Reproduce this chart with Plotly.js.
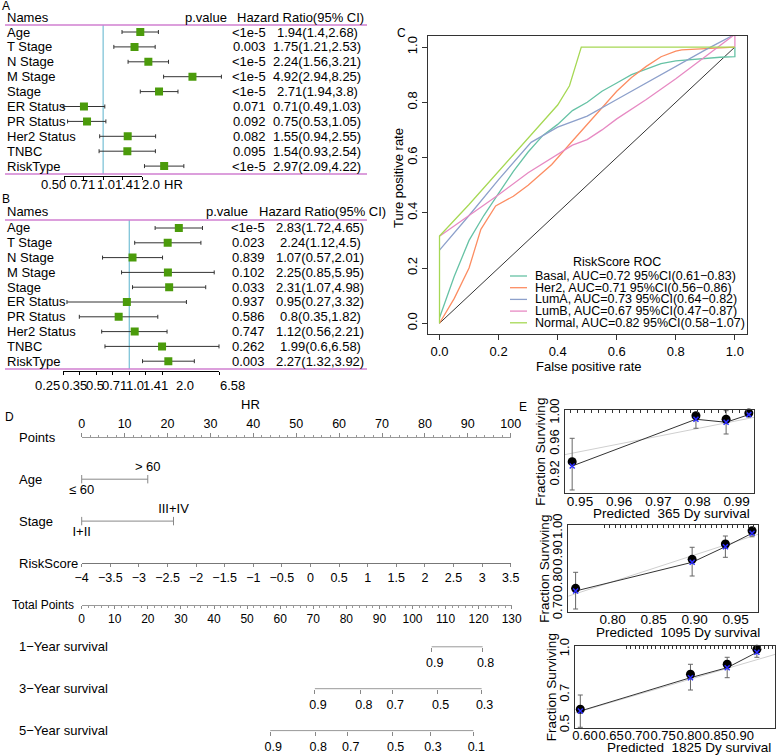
<!DOCTYPE html>
<html><head><meta charset="utf-8">
<script src="https://cdn.plot.ly/plotly-3.0.1.min.js"></script>
<style>body{margin:0;background:#fff}#plot{width:778px;height:756px}</style>
</head><body><div id="plot"></div>
<script>
// ================= DATA =================
// Panels A/B: forest plots
const forestNames=['Age','T Stage','N Stage','M Stage','Stage','ER Status','PR Status','Her2 Status','TNBC','RiskType'];
const uniHR=[1.94,1.75,2.24,4.92,2.71,0.71,0.75,1.55,1.54,2.97];
const uniLow=[1.4,1.21,1.56,2.94,1.94,0.49,0.53,0.94,0.93,2.09];
const uniHigh=[2.68,2.53,3.21,8.25,3.8,1.03,1.05,2.55,2.54,4.22];
const uniP=['<1e-5','0.003','<1e-5','<1e-5','<1e-5','0.071','0.092','0.082','0.095','<1e-5'];
const uniTicks=[0.5,0.71,1,1.41,2];
const uniTickText=['0.50','0.71','1.0','1.41','2.0'];
const multiHR=[2.83,2.24,1.07,2.25,2.31,0.95,0.8,1.12,1.99,2.27];
const multiLow=[1.72,1.12,0.57,0.85,1.07,0.27,0.35,0.56,0.6,1.32];
const multiHigh=[4.65,4.5,2.01,5.95,4.98,3.32,1.82,2.21,6.58,3.92];
const multiP=['<1e-5','0.023','0.839','0.102','0.033','0.937','0.586','0.747','0.262','0.003'];
const multiTicks=[0.25,0.35,0.5,0.71,1,1.41,2,6.58];
const multiTickText=['0.25','0.35','0.5','0.71','1.0','1.41','2.0','6.58'];

// Panel C: ROC curves
const rocGroups=['Basal','Her2','LumA','LumB','Normal'];
const rocAUC=['0.72','0.71','0.73','0.67','0.82'];
const rocCILow=['0.61','0.56','0.64','0.47','0.58'];
const rocCIHigh=['0.83','0.86','0.82','0.87','1.07'];
const rocColors=['#66C2A5','#FC8D62','#8DA0CB','#E78AC3','#A6D854'];
const basalFPR=[0,0.05,0.1,0.15,0.2,0.25,0.3,0.35,0.4,0.45,0.5,0.55,0.6,0.65,0.7,0.75,0.8,0.85,0.9,0.95,1,1];
const basalTPR=[0.02,0.17,0.30,0.39,0.47,0.55,0.62,0.68,0.72,0.77,0.80,0.84,0.87,0.90,0.92,0.94,0.95,0.955,0.96,0.963,0.965,1.0];
const her2FPR=[0,0.05,0.1,0.14,0.19,0.25,0.3,0.38,0.45,0.5,0.55,0.6,0.65,0.7,0.75,0.8,0.82,0.9,1.0];
const her2TPR=[0,0.09,0.2,0.34,0.425,0.46,0.5,0.575,0.66,0.72,0.78,0.84,0.89,0.93,0.965,0.985,0.99,0.995,1.0];
const lumAFPR=[0,0.1,0.2,0.31,0.4,0.5,0.6,0.7,0.8,0.9,1.0];
const lumATPR=[0.265,0.39,0.52,0.655,0.71,0.75,0.81,0.87,0.93,0.99,1.046];
const lumBFPR=[0,0.1,0.2,0.3,0.4,0.45,0.5,0.55,0.6,0.7,0.8,0.9,1,1];
const lumBTPR=[0.315,0.39,0.465,0.545,0.61,0.645,0.665,0.70,0.74,0.81,0.885,0.965,1.046,1.0];
const normalFPR=[0,0,0.1,0.2,0.3,0.37,0.4,0.44,0.48,1.0];
const normalTPR=[0,0.316,0.43,0.55,0.67,0.75,0.79,0.86,1.0,1.0];
const chanceFPR=[0,1], chanceTPR=[0,1];
const rocTicks=[0,0.2,0.4,0.6,0.8,1];
const rocTickText=['0.0','0.2','0.4','0.6','0.8','1.0'];

// Panel D: nomogram
const pointsTicks=[0,10,20,30,40,50,60,70,80,90,100];
const ageLevels=['≤ 60','&gt; 60'];
const agePoints=[0,15.4];
const stageLevels=['I+II','III+IV'];
const stagePoints=[0,21.4];
const riskScoreTicks=[-4,-3.5,-3,-2.5,-2,-1.5,-1,-0.5,0,0.5,1,1.5,2,2.5,3,3.5];
const totalPointsTicks=[0,10,20,30,40,50,60,70,80,90,100,110,120,130];
const surv1Labels=['0.9','0.8'];
const surv1Points=[105.8,121.2];
const surv3Labels=['0.9','0.8','0.7','0.5','0.3'];
const surv3Points=[70.5,84.4,93.9,107.6,120.9];
const surv5Labels=['0.9','0.8','0.7','0.5','0.3','0.1'];
const surv5Points=[57.0,70.6,80.4,94.0,105.3,118.4];

// Panel E: calibration curves
const cal365Pred=[0.948,0.9796,0.9873,0.9931];
const cal365Obs=[0.937,0.9966,0.992,1.0];
const cal365Corr=[0.9314,0.992,0.9881,0.998];
const cal365Low=[0.9003,0.9803,0.9729,0.996];
const cal365High=[0.9673,0.9989,1.0031,1.002];
const cal1095Pred=[0.755,0.897,0.9375,0.970];
const cal1095Obs=[0.7754,0.8838,0.941,0.9907];
const cal1095Corr=[0.7654,0.8726,0.9309,0.981];
const cal1095Low=[0.6981,0.8214,0.8913,0.968];
const cal1095High=[0.8352,0.9287,0.9709,0.995];
const cal1825Pred=[0.591,0.8025,0.873,0.930];
const cal1825Obs=[0.6047,0.8343,0.90,0.998];
const cal1825Corr=[0.5935,0.812,0.8776,0.9787];
const cal1825Low=[0.4866,0.7313,0.812,0.9459];
const cal1825High=[0.6985,0.90,0.9459,1.0115];
const idealX=[0,1], idealY=[0,1];

// ================= LAYOUT HELPERS =================
const W=778,H=756;
const fx=p=>p/W, fy=p=>1-p/H;
const FONT='"Liberation Sans", Arial, Helvetica, sans-serif';
const traces=[], annotations=[], shapes=[];
const layout={width:W,height:H,margin:{l:0,r:0,t:0,b:0},paper_bgcolor:'#fff',plot_bgcolor:'rgba(0,0,0,0)',
  showlegend:false,font:{family:FONT,size:12,color:'#000'},hovermode:false};
const ax=id=>(id[0]==='x'?'xaxis':'yaxis')+id.slice(1);
function note(text,x,y,o={}){
  annotations.push(Object.assign({text:text,x:x,y:y,xref:'paper',yref:'paper',showarrow:false,
    xanchor:'center',yanchor:'middle',font:{size:13,color:'#000',family:FONT}},o));
}
const esc=s=>s.replace(/</g,'&lt;');

// ================= PANELS A & B =================
function forest(o){
  const perLog10=o.perLog2*Math.log2(10);
  const vAt=px=>(px-o.rowTop)/o.step;
  const rows=forestNames.map((_,i)=>i);
  layout[ax(o.y)]={domain:[fy(o.domBot),fy(o.domTop)],range:[vAt(o.domBot),vAt(o.domTop)],visible:false,anchor:o.xd};
  layout[ax(o.xd)]={domain:[fx(5),fx(367)],type:'log',range:[(5-o.onePx)/perLog10,(367-o.onePx)/perLog10],visible:false,anchor:o.y};
  const t0=o.ticks[0],t1=o.ticks[o.ticks.length-1];
  layout[ax(o.xt)]={domain:[fx(o.onePx+o.perLog2*Math.log2(t0)),fx(o.onePx+o.perLog2*Math.log2(t1))],type:'log',
    range:[Math.log10(t0),Math.log10(t1)],anchor:o.y,tickmode:'array',tickvals:o.ticks,showticklabels:false,
    ticks:'outside',ticklen:3,tickcolor:'#000',showline:true,linecolor:'#000',linewidth:1,showgrid:false,zeroline:false};
  traces.push({type:'scatter',x:[t0,t1],y:[vAt(o.domBot),vAt(o.domBot)],xaxis:o.xt,yaxis:o.y,mode:'none',hoverinfo:'skip'});
  traces.push({type:'scatter',x:[1,1],y:[vAt(o.lineTop),vAt(o.lineBot)],xaxis:o.xd,yaxis:o.y,mode:'lines',
    line:{color:'#80c4d8',width:1.3},hoverinfo:'skip'});
  traces.push({type:'scatter',x:o.hr,y:rows,xaxis:o.xd,yaxis:o.y,mode:'markers',
    marker:{symbol:'square',size:8,color:'#4b9b0b'},
    error_x:{type:'data',symmetric:false,array:o.hi.map((h,i)=>h-o.hr[i]),arrayminus:o.lo.map((l,i)=>o.hr[i]-l),
      color:'#333',thickness:1,width:2}});
  [o.lineTop,o.lineBot].forEach(py=>shapes.push({type:'line',xref:'paper',yref:'paper',x0:fx(5),x1:fx(367),y0:fy(py),y1:fy(py),
    line:{color:'#d17fd1',width:1.3}}));
  // R packs the tick labels side by side under the axis
  o.tickText.forEach((t,i)=>note(t,fx(o.labelPx[i]),fy(o.labelY)));
  const hv=vAt(o.headerPx);
  note('Names',fx(5),hv,{yref:o.y,xanchor:'left'});
  note('p.value',fx(o.hdrPX),hv,{yref:o.y});
  note('Hazard Ratio(95% CI)',fx(o.hdrHRX),hv,{yref:o.y,xanchor:'left'});
  rows.forEach(i=>{
    note(forestNames[i],fx(5),i,{yref:o.y,xanchor:'left'});
    note(esc(o.p[i]),fx(o.pX),i,{yref:o.y});
    note(o.hr[i]+'('+o.lo[i]+','+o.hi[i]+')',fx(o.hrX),i,{yref:o.y});
  });
}
forest({xd:'x',xt:'x2',y:'y',rowTop:32,step:14.9,domTop:8,domBot:175.5,onePx:103.15,perLog2:38.85,
  hr:uniHR,lo:uniLow,hi:uniHigh,p:uniP,ticks:uniTicks,tickText:uniTickText,headerPx:17,lineTop:25,lineBot:174,
  hdrPX:206,hdrHRX:235,pX:249,hrX:317,labelPx:[53.3,82.5,105.8,127.5,150.8],labelY:184});
forest({xd:'x3',xt:'x4',y:'y2',rowTop:228,step:14.8,domTop:204,domBot:370.5,onePx:129.3,perLog2:33.0,
  hr:multiHR,lo:multiLow,hi:multiHigh,p:multiP,ticks:multiTicks,tickText:multiTickText,headerPx:212,lineTop:220,lineBot:369,
  hdrPX:227,hdrHRX:256.5,pX:248,hrX:320,labelPx:[47.5,74.5,94.5,114.5,134.5,155,185,232.5],labelY:385});
note('HR',fx(173),fy(184.5));
note('HR',fx(250),fy(404));
note('A',fx(6),fy(6),{font:{size:12,color:'#000',family:FONT}});
note('B',fx(6),fy(199),{font:{size:12,color:'#000',family:FONT}});

// ================= PANEL C: ROC =================
layout.xaxis5={domain:[fx(427.7),fx(746.7)],range:[-0.04,1.04],anchor:'y3',tickmode:'array',tickvals:rocTicks,ticktext:rocTickText,
  ticks:'outside',ticklen:5,tickcolor:'#333',showline:true,mirror:true,linecolor:'#333',linewidth:1,showgrid:false,zeroline:false,
  tickangle:0,tickfont:{size:13,family:FONT}};
layout.yaxis3={domain:[fy(334.3),fy(36)],range:[-0.04,1.04],anchor:'x5',tickmode:'array',tickvals:rocTicks,ticktext:rocTickText,
  ticks:'outside',ticklen:5,tickcolor:'#333',showline:true,mirror:true,linecolor:'#333',linewidth:1,showgrid:false,zeroline:false,
  tickangle:-90,tickfont:{size:13,family:FONT}};
traces.push({type:'scatter',x:chanceFPR,y:chanceTPR,xaxis:'x5',yaxis:'y3',mode:'lines',line:{color:'#000',width:0.8}});
const rocCurves=[[basalFPR,basalTPR],[her2FPR,her2TPR],[lumAFPR,lumATPR],[lumBFPR,lumBTPR],[normalFPR,normalTPR]];
rocCurves.forEach((c,i)=>traces.push({type:'scatter',x:c[0],y:c[1],xaxis:'x5',yaxis:'y3',mode:'lines',
  line:{color:rocColors[i],width:1.3}}));
note('False positive rate',fx(589),fy(366));
note('Ture positive rate',fx(398),fy(178),{textangle:-90});
note('C',fx(401),fy(33),{font:{size:12,color:'#000',family:FONT}});
// legend (drawn manually to keep R's compact spacing)
note('RiskScore ROC',fx(617),fy(262),{font:{size:12.5,color:'#000',family:FONT}});
rocGroups.forEach((g,i)=>{
  const py=276+i*11.7;
  shapes.push({type:'line',xref:'paper',yref:'paper',x0:fx(510),x1:fx(527),y0:fy(py),y1:fy(py),line:{color:rocColors[i],width:1.3}});
  note(g+', AUC='+rocAUC[i]+' 95%CI('+rocCILow[i]+'−'+rocCIHigh[i]+')',fx(533),fy(py),
    {xanchor:'left',font:{size:12.5,color:'#000',family:FONT}});
});

// ================= PANEL D: NOMOGRAM =================
const rowPx=v=>437.3+41.9*v;
const vD=px=>(px-437.3)/41.9;
layout.yaxis4={domain:[fy(750),fy(395)],range:[vD(750),vD(395)],visible:false,anchor:'free',position:0};
const nomoDom=[fx(81.7),fx(510.7)], totalDom=[fx(81.7),fx(511.7)];
const nomoBase={showgrid:false,zeroline:false,anchor:'free',tickcolor:'#888',linecolor:'#999',linewidth:1,tickangle:0,
  tickfont:{size:12.5,family:FONT,color:'#000'}};
layout.xaxis6=Object.assign({},nomoBase,{domain:nomoDom,range:[0,100],position:fy(rowPx(0)),side:'top',showline:true,
  tickmode:'array',tickvals:pointsTicks,ticks:'outside',ticklen:4,
  minor:{tickmode:'linear',tick0:0,dtick:2,ticks:'outside',ticklen:2,tickcolor:'#999'}});
layout.xaxis7=Object.assign({},nomoBase,{domain:nomoDom,range:[riskScoreTicks[0],riskScoreTicks[riskScoreTicks.length-1]],
  position:fy(rowPx(3)),side:'bottom',showline:true,linecolor:'#777',tickmode:'array',tickvals:riskScoreTicks,
  ticktext:riskScoreTicks.map(v=>(v<0?'−':'')+Math.abs(v)),ticks:'outside',ticklen:3});
layout.xaxis8=Object.assign({},nomoBase,{domain:totalDom,range:[0,130],position:fy(rowPx(4)),side:'bottom',showline:true,
  tickmode:'array',tickvals:totalPointsTicks,ticks:'outside',ticklen:3,tickfont:{size:12,family:FONT,color:'#000'},
  minor:{tickmode:'linear',tick0:0,dtick:2,ticks:'outside',ticklen:2,tickcolor:'#999'}});
traces.push({type:'scatter',x:[0,100],y:[0,0],xaxis:'x6',yaxis:'y4',mode:'none',hoverinfo:'skip'});
traces.push({type:'scatter',x:[-4,3.5],y:[3,3],xaxis:'x7',yaxis:'y4',mode:'none',hoverinfo:'skip'});
traces.push({type:'scatter',x:[0,130],y:[4,4],xaxis:'x8',yaxis:'y4',mode:'none',hoverinfo:'skip'});
// categorical predictors
[[agePoints,ageLevels,1],[stagePoints,stageLevels,2]].forEach(([pts,lab,row])=>{
  traces.push({type:'scatter',x:pts,y:pts.map(()=>row),xaxis:'x6',yaxis:'y4',mode:'lines+markers+text',
    line:{color:'#888',width:1},marker:{symbol:'line-ns-open',size:6,color:'#888',line:{color:'#888',width:1}},
    text:lab,textposition:['bottom center','top center'],textfont:{size:13,family:FONT,color:'#000'},cliponaxis:false});
});
// survival scales
[[surv1Points,surv1Labels,5,'x9'],[surv3Points,surv3Labels,6,'x10'],[surv5Points,surv5Labels,7,'x11']].forEach(([pts,lab,row,xid])=>{
  layout[ax(xid)]=Object.assign({},nomoBase,{domain:totalDom,range:[0,130],position:fy(rowPx(row)),side:'bottom',showline:false,
    tickmode:'array',tickvals:pts,ticktext:lab,ticks:'outside',ticklen:4,ticklabelshift:3});
  traces.push({type:'scatter',x:[pts[0],pts[pts.length-1]],y:[row,row],xaxis:xid,yaxis:'y4',mode:'lines',line:{color:'#999',width:1}});
});
const nomoLabels=['Points','Age','Stage','RiskScore','Total Points','1−Year survival','3−Year survival','5−Year survival'];
nomoLabels.forEach((t,i)=>note(t,fx(i===4?10:17),i,{yref:'y4',xanchor:'left',
  font:{size:i===4?12:13,color:'#000',family:FONT}}));
note('D',fx(9),fy(417),{font:{size:12,color:'#000',family:FONT}});

// ================= PANEL E: CALIBRATION =================
function calib(o){
  layout[ax(o.xa)]={domain:[fx(o.l),fx(o.r)],range:o.xr,anchor:o.ya,tickmode:'array',tickvals:o.xt,ticktext:o.xtt,tickangle:0,
    ticks:'',ticklabelstandoff:-5,showline:true,mirror:true,linecolor:'#333',linewidth:1,showgrid:false,zeroline:false,
    tickfont:{size:o.xfs,family:FONT}};
  layout[ax(o.ya)]={domain:[fy(o.b),fy(o.t)],range:o.yr,anchor:o.xa,tickmode:'array',tickvals:o.yt,ticktext:o.ytt,
    ticks:'',showline:true,mirror:true,linecolor:'#333',linewidth:1,showgrid:false,zeroline:false,tickangle:-90,
    tickfont:{size:13,family:FONT}};
  const rug=[]; for(let v=o.rug[0];v<=o.rug[1]+1e-9;v+=o.rug[2]) rug.push(v);
  layout[ax(o.xrug)]={overlaying:o.xa,side:'top',anchor:o.ya,range:o.xr,tickmode:'array',tickvals:rug,ticks:'inside',
    ticklen:3,tickcolor:'#333',showticklabels:false,showline:false,showgrid:false,zeroline:false};
  traces.push({type:'scatter',x:[o.xr[0]],y:[o.yr[0]],xaxis:o.xrug,yaxis:o.ya,mode:'none',hoverinfo:'skip'});
  traces.push({type:'scatter',x:idealX,y:idealY,xaxis:o.xa,yaxis:o.ya,mode:'lines',line:{color:'#cfcfcf',width:1}});
  traces.push({type:'scatter',x:o.pred,y:o.obs,xaxis:o.xa,yaxis:o.ya,mode:'markers',marker:{size:1,color:'rgba(0,0,0,0)'},
    error_y:{type:'data',symmetric:false,array:o.hi.map((h,i)=>h-o.obs[i]),arrayminus:o.lo.map((l,i)=>o.obs[i]-l),
      color:'#666',thickness:1,width:2.5},cliponaxis:false});
  traces.push({type:'scatter',x:o.pred,y:o.corr,xaxis:o.xa,yaxis:o.ya,mode:'lines',line:{color:'#333',width:1}});
  traces.push({type:'scatter',x:o.pred,y:o.obs,xaxis:o.xa,yaxis:o.ya,mode:'markers',marker:{size:9,color:'#000'},cliponaxis:false});
  traces.push({type:'scatter',x:o.pred,y:o.corr,xaxis:o.xa,yaxis:o.ya,mode:'markers',
    marker:{symbol:'x-thin-open',size:5,color:'#2b2bff',line:{color:'#2b2bff',width:1.5}},cliponaxis:false});
  note('Fraction Surviving',fx(o.l-24),fy((o.t+o.b)/2),{textangle:-90,font:{size:13.5,color:'#000',family:FONT}});
  note(o.title,fx(o.titleX),fy(o.titleY),{font:{size:13.5,color:'#000',family:FONT}});
}
calib({xa:'x12',ya:'y5',xrug:'x13',l:565,r:754,t:410,b:493.3,xr:[0.94617,0.99442],yr:[0.896,1.004],xfs:13.5,
  xt:[0.95,0.96,0.97,0.98,0.99],xtt:['0.95','0.96','0.97','0.98','0.99'],yt:[0.92,0.96,1.0],ytt:['0.92','0.96','1.00'],
  pred:cal365Pred,obs:cal365Obs,corr:cal365Corr,lo:cal365Low,hi:cal365High,rug:[0.9475,0.9935,0.0018],
  title:'Predicted\u00a0\u00a0365 Dy survival',titleX:671,titleY:513});
calib({xa:'x14',ya:'y6',xrug:'x15',l:568.3,r:758.3,t:525,b:611.7,xr:[0.7461,0.9776],yr:[0.688,1.012],xfs:13.5,
  xt:[0.80,0.85,0.90,0.95],xtt:['0.80','0.85','0.90','0.95'],yt:[0.7,0.8,0.9,1.0],ytt:['0.70','0.80','0.90','1.00'],
  pred:cal1095Pred,obs:cal1095Obs,corr:cal1095Corr,lo:cal1095Low,hi:cal1095High,rug:[0.79,0.975,0.0065],
  title:'Predicted\u00a0\u00a01095 Dy survival',titleX:678,titleY:632});
calib({xa:'x16',ya:'y7',xrug:'x17',l:575,r:775,t:646,b:728.3,xr:[0.5808,0.9648],yr:[0.48,1.02],xfs:13,
  xt:[0.60,0.65,0.70,0.75,0.80,0.85,0.90,0.95],xtt:['0.60','0.65','0.70','0.75','0.80','0.85','0.90','0.95'],
  yt:[0.5,0.7,1.0],ytt:['0.5','0.7','1.0'],
  pred:cal1825Pred,obs:cal1825Obs,corr:cal1825Corr,lo:cal1825Low,hi:cal1825High,rug:[0.68,0.96,0.008],
  title:'Predicted\u00a0\u00a01825 Dy survival',titleX:689,titleY:747});
note('E',fx(523),fy(407),{font:{size:12,color:'#000',family:FONT}});

layout.annotations=annotations;
layout.shapes=shapes;
Plotly.newPlot('plot',traces,layout,{staticPlot:true,displayModeBar:false});
</script>
</body></html>
